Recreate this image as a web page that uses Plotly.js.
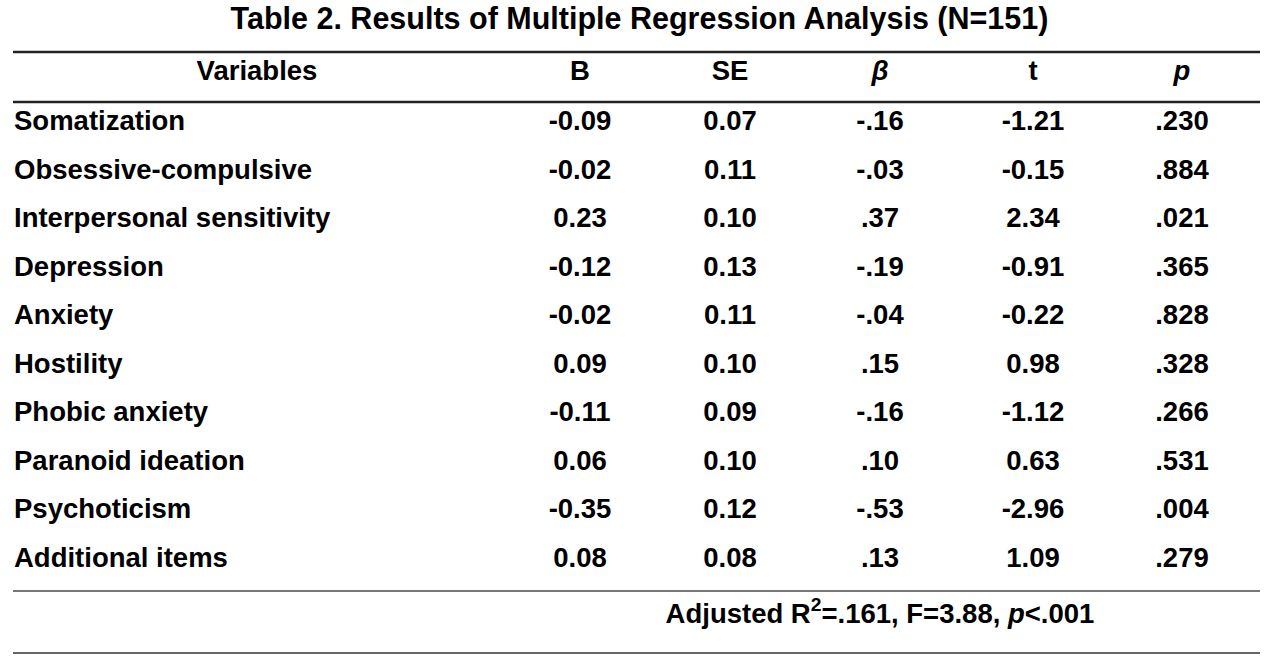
<!DOCTYPE html>
<html>
<head>
<meta charset="utf-8">
<script src="https://cdn.plot.ly/plotly-3.0.1.min.js"></script>
<style>html,body{margin:0;padding:0;background:#fff;}#chart{width:1279px;height:656px;}</style>
</head>
<body>
<div id="chart"></div>
<script>
// ---- data ----
const titleText = "Table 2. Results of Multiple Regression Analysis (N=151)";
const headers = ["Variables", "B", "SE", "<i>β</i>", "t", "<i>p</i>"];
const variables = ["Somatization", "Obsessive-compulsive", "Interpersonal sensitivity", "Depression", "Anxiety", "Hostility", "Phobic anxiety", "Paranoid ideation", "Psychoticism", "Additional items"];
const B    = ["-0.09", "-0.02", "0.23", "-0.12", "-0.02", "0.09", "-0.11", "0.06", "-0.35", "0.08"];
const SE   = ["0.07", "0.11", "0.10", "0.13", "0.11", "0.10", "0.09", "0.10", "0.12", "0.08"];
const beta = ["-.16", "-.03", ".37", "-.19", "-.04", ".15", "-.16", ".10", "-.53", ".13"];
const tval = ["-1.21", "-0.15", "2.34", "-0.91", "-0.22", "0.98", "-1.12", "0.63", "-2.96", "1.09"];
const pval = [".230", ".884", ".021", ".365", ".828", ".328", ".266", ".531", ".004", ".279"];
const footerText = "Adjusted R<sup>2</sup>=.161, F=3.88, <i>p</i><.001";

// ---- layout constants ----
const FONT = "Liberation Sans, Arial, Helvetica, sans-serif";
const FS = 27.5;
const labelX = 14;
const headerX = [257, 580, 730, 880, 1033, 1182];
const headerY = 73;
const row0Y = 123.5, rowStep = 48.5;
const footerY = 616, footerX = 880;

const rowYs = variables.map((_, i) => row0Y + i * rowStep);
const font = {family: FONT, size: FS, color: "#000", weight: 700};

const traces = [];
// header
traces.push({type: "scatter", mode: "text", x: headerX, y: headers.map(() => headerY),
  text: headers, textposition: "middle center", textfont: font, hoverinfo: "skip", showlegend: false, cliponaxis: false});
// variable labels
traces.push({type: "scatter", mode: "text", x: variables.map(() => labelX), y: rowYs,
  text: variables, textposition: "middle right", textfont: font, hoverinfo: "skip", showlegend: false, cliponaxis: false});
// numeric columns
[B, SE, beta, tval, pval].forEach((col, ci) => {
  traces.push({type: "scatter", mode: "text", x: col.map(() => headerX[ci + 1]), y: rowYs,
    text: col, textposition: "middle center", textfont: font, hoverinfo: "skip", showlegend: false, cliponaxis: false});
});
// footer
traces.push({type: "scatter", mode: "text", x: [footerX], y: [footerY],
  text: [footerText], textposition: "middle center", textfont: font, hoverinfo: "skip", showlegend: false, cliponaxis: false});

function hline(y, w, c) {
  return {type: "line", xref: "x", yref: "y", x0: 13, x1: 1260, y0: y, y1: y, line: {color: c, width: w}};
}

const layout = {
  width: 1279, height: 656,
  margin: {l: 0, r: 0, t: 0, b: 0, pad: 0},
  paper_bgcolor: "#fff", plot_bgcolor: "#fff",
  title: {text: "<b>" + titleText + "</b>", font: {family: FONT, size: 30.5, color: "#000"},
          x: 0.5, xanchor: "center", y: 1 - 18 / 656, yanchor: "middle", yref: "paper"},
  xaxis: {range: [0, 1279], visible: false, fixedrange: true},
  yaxis: {range: [656, 0], visible: false, fixedrange: true},
  shapes: [hline(52, 2.5, "#222"), hline(102, 2.5, "#222"), hline(591, 2, "#777"), hline(653, 2, "#666")],
  showlegend: false
};

Plotly.newPlot("chart", traces, layout, {displayModeBar: false, staticPlot: true});
</script>
</body>
</html>
